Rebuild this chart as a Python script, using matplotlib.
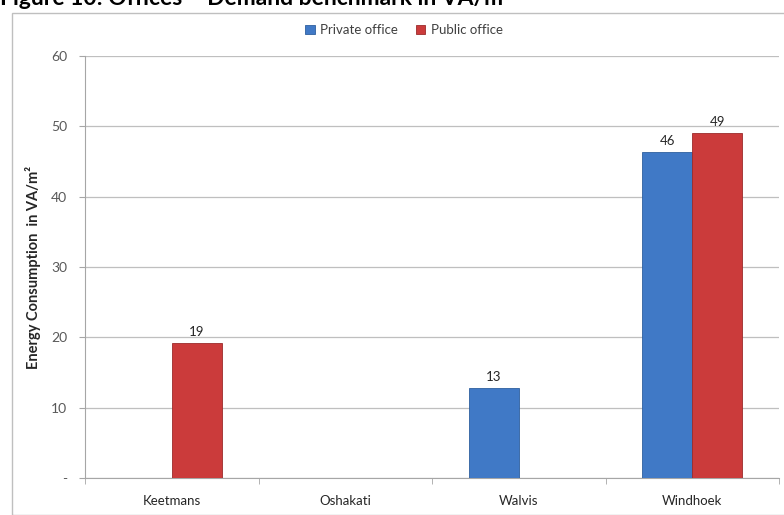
import matplotlib
matplotlib.use("Agg")
import matplotlib.pyplot as plt
import numpy as np
from matplotlib.patches import Rectangle

plt.rcParams['font.family'] = ['Lato', 'DejaVu Sans']

categories = ["Keetmans", "Oshakati", "Walvis", "Windhoek"]
private_office = [np.nan, np.nan, 12.8, 46.3]
public_office = [19.2, np.nan, np.nan, 49.0]
private_labels = ["", "", "13", "46"]
public_labels = ["19", "", "", "49"]
yticks = [0, 10, 20, 30, 40, 50, 60]
ytick_labels = ["-", "10", "20", "30", "40", "50", "60"]

W, H = 784, 515
fig = plt.figure(figsize=(W / 100, H / 100), dpi=100)

# outer chart frame
fig.patches.append(Rectangle((12 / W, 0), (W - 12) / W + 0.01, (H - 13) / H,
                             transform=fig.transFigure, fill=False,
                             edgecolor="#bfbfbf", linewidth=1.0))

# title (cut off at top, as in the reference)
fig.text(0, 1 - 5 / H, "Figure 10: Offices  - Demand benchmark in VA/m²",
         fontsize=16.5, fontweight="bold", color="black",
         ha="left", va="baseline")

ax = fig.add_axes([85 / W, 1 - 478 / H, (779 - 85) / W, (478 - 56) / H])

x = np.arange(len(categories))
bw = 0.287
blue = "#4079c6"
red = "#cb3b3b"
ax.bar(x - bw / 2, private_office, bw, color=blue, edgecolor="#2e5f9e",
       linewidth=0.6, label="Private office", zorder=3)
ax.bar(x + bw / 2, public_office, bw, color=red, edgecolor="#9c2b2b",
       linewidth=0.6, label="Public office", zorder=3)

for i in range(len(categories)):
    if not np.isnan(private_office[i]):
        ax.text(x[i] - bw / 2, private_office[i] + 0.7, private_labels[i],
                ha="center", va="bottom", fontsize=9.5, color="#262626")
    if not np.isnan(public_office[i]):
        ax.text(x[i] + bw / 2, public_office[i] + 0.7, public_labels[i],
                ha="center", va="bottom", fontsize=9.5, color="#262626")

ax.set_xlim(-0.5, len(categories) - 0.5)
ax.set_ylim(0, 60)
ax.set_yticks(yticks)
ax.set_yticklabels(ytick_labels, fontsize=10, color="#595959")
ax.set_xticks(x)
ax.set_xticklabels(categories, fontsize=9.5, color="#262626")
ax.tick_params(axis="x", length=0, pad=12)
ax.tick_params(axis="y", length=4, color="#a6a6a6", pad=9)
ax.set_xticks(np.arange(-0.5, len(categories)), minor=True)
ax.tick_params(axis="x", which="minor", length=4, color="#a6a6a6", direction="out")

ax.grid(axis="y", color="#bfbfbf", linewidth=0.9, zorder=0)
for s in ["top", "right"]:
    ax.spines[s].set_visible(False)
ax.spines["left"].set_color("#a6a6a6")
ax.spines["bottom"].set_color("#a6a6a6")

ax.set_ylabel("Energy Consumption  in VA/m²", fontsize=10.5, fontweight="bold",
              color="#262626", labelpad=7)

leg = ax.legend(loc="center", bbox_to_anchor=(404 / W, 1 - 30 / H),
                bbox_transform=fig.transFigure, ncol=2, frameon=False,
                fontsize=9.5, handlelength=0.7, handleheight=0.7,
                handletextpad=0.4, columnspacing=1.4)
for t in leg.get_texts():
    t.set_color("#404040")

fig.savefig("out.png", dpi=100)
